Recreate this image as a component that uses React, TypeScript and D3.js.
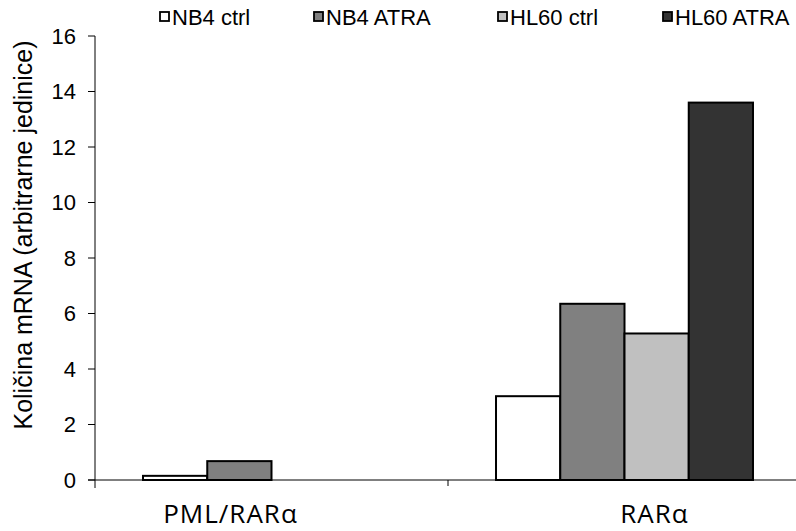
import React from "react";
import * as d3 from "d3";

const categories = ["PML/RARα", "RARα"];
const seriesNames = ["NB4 ctrl", "NB4 ATRA", "HL60 ctrl", "HL60 ATRA"];
const seriesColors = ["#ffffff", "#808080", "#c0c0c0", "#333333"];
const nb4Ctrl = [0.15, 3.02];
const nb4Atra = [0.68, 6.35];
const hl60Ctrl = [0, 5.28];
const hl60Atra = [0, 13.6];
const yTicks = [0, 2, 4, 6, 8, 10, 12, 14, 16];
const yLabel = "Količina mRNA (arbitrarne jedinice)";

const seriesValues = [nb4Ctrl, nb4Atra, hl60Ctrl, hl60Atra];

const W = 796;
const H = 531;
const left = 95;
const right = 801;
const top = 36;
const bottom = 480;

export default function App() {
  const x0 = d3.scaleBand<string>().domain(categories).range([left, right]).padding(0);
  const bw = x0.bandwidth();
  const gap = bw * 0.272;
  const x1 = d3.scaleBand<string>().domain(seriesNames).range([gap / 2, bw - gap / 2]).padding(0);
  const y = d3.scaleLinear().domain([0, 16]).range([bottom, top]);
  const labelDx = [-41, 30];
  const legendX = [159, 313, 497, 662];

  return (
    <svg width={W} height={H} style={{ position: "absolute", left: 0, top: 0, background: "#fff" }}>
      {categories.map((c, ci) =>
        seriesNames.map((s, si) => {
          const v = seriesValues[si][ci];
          if (!v) return null;
          return (
            <rect
              key={c + s}
              x={x0(c)! + x1(s)!}
              y={y(v)}
              width={x1.bandwidth()}
              height={y(0) - y(v)}
              fill={seriesColors[si]}
              stroke="#000"
              strokeWidth={2}
            />
          );
        })
      )}
      <line x1={left} x2={left} y1={top} y2={bottom + 8} stroke="#000" strokeWidth={1} />
      {yTicks.map((t) => (
        <g key={t}>
          <line x1={left - 7} x2={left} y1={y(t)} y2={y(t)} stroke="#000" strokeWidth={1} />
          <text
            x={left - 19}
            y={y(t)}
            dy="0.36em"
            textAnchor="end"
            fontFamily="Liberation Sans, Arial, sans-serif"
            fontSize={22}
            fill="#000"
          >
            {t}
          </text>
        </g>
      ))}
      <line x1={left - 7} x2={right} y1={bottom} y2={bottom} stroke="#000" strokeWidth={1} />
      {categories.slice(1).map((c) => (
        <line key={c} x1={x0(c)!} x2={x0(c)!} y1={bottom} y2={bottom + 6} stroke="#000" strokeWidth={1} />
      ))}
      {categories.map((c, ci) => (
        <text
          key={c}
          x={x0(c)! + bw / 2 + labelDx[ci]}
          y={523}
          textAnchor="middle"
          fontFamily="Open Sans, sans-serif"
          fontSize={26}
          letterSpacing={1}
          fill="#000"
        >
          {c}
        </text>
      ))}
      <text
        transform={`translate(32,235) rotate(-90)`}
        textAnchor="middle"
        fontFamily="Liberation Sans, Arial, sans-serif"
        fontSize={25}
        fill="#000"
      >
        {yLabel}
      </text>
      {seriesNames.map((s, si) => (
        <g key={s}>
          <rect x={legendX[si] + 1} y={12} width={9} height={9} fill={seriesColors[si]} stroke="#000" strokeWidth={1.8} />
          <text
            x={legendX[si] + 13}
            y={25}
            fontFamily="Liberation Sans, Arial, sans-serif"
            fontSize={22}
            fill="#000"
          >
            {s}
          </text>
        </g>
      ))}
    </svg>
  );
}
